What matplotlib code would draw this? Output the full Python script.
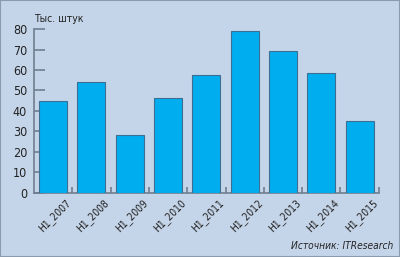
import matplotlib.pyplot as plt
from matplotlib.patches import Rectangle

periods = ["H1_2007", "H1_2008", "H1_2009", "H1_2010", "H1_2011",
           "H1_2012", "H1_2013", "H1_2014", "H1_2015"]
values = [45, 54, 28, 46.3, 57.5, 78.8, 69.3, 58.3, 35.1]

bg = '#c5d5e9'
axis_col = '#6f7f90'
plt.rcParams['font.family'] = ['DejaVu Sans']
plt.rcParams['font.stretch'] = 'condensed'

fig = plt.figure(figsize=(4, 2.57), dpi=100, facecolor=bg)
ax = fig.add_axes([0.085, 0.25, 0.862, 0.637])
ax.set_facecolor(bg)

x = list(range(len(values)))
ax.bar(x, values, width=0.73, color='#00adee', edgecolor='#3d6f92', linewidth=0.8, zorder=3)

ax.set_xlim(-0.5, len(values) - 0.5)
ax.set_ylim(0, 80)
ax.set_yticks(range(0, 81, 10))
# подписи смещены вправо от центра столбца
ax.set_xticks([i + 0.32 for i in x])
ax.set_xticklabels(periods, rotation=45, ha='right', va='top', rotation_mode='anchor',
                   fontsize=7.5, color='#222222')
ax.set_xticks([i + 0.5 for i in x], minor=True)

for s in ['top', 'right']:
    ax.spines[s].set_visible(False)
for s in ['left', 'bottom']:
    ax.spines[s].set_color(axis_col)
    ax.spines[s].set_linewidth(1.2)

ax.tick_params(axis='y', direction='in', length=8, width=1.2, color=axis_col,
               labelsize=9, labelcolor='#222222', pad=5)
ax.tick_params(axis='x', which='major', length=0, pad=3)
ax.tick_params(axis='x', which='minor', direction='in', length=4, width=1.2, color=axis_col)

fig.text(0.085, 0.925, "Тыс. штук", fontsize=7.5, color='#222222', ha='left', va='center')
fig.text(0.982, 0.03, "Источник: ITResearch", fontsize=7.3, style='italic',
         color='#222222', ha='right', va='baseline')

# рамка вокруг рисунка
fig.patches.append(Rectangle((0, 0), 1, 1, transform=fig.transFigure, fill=False,
                             edgecolor='#8a9bb0', linewidth=1.5))

fig.savefig('out.png', dpi=100, facecolor=bg)
